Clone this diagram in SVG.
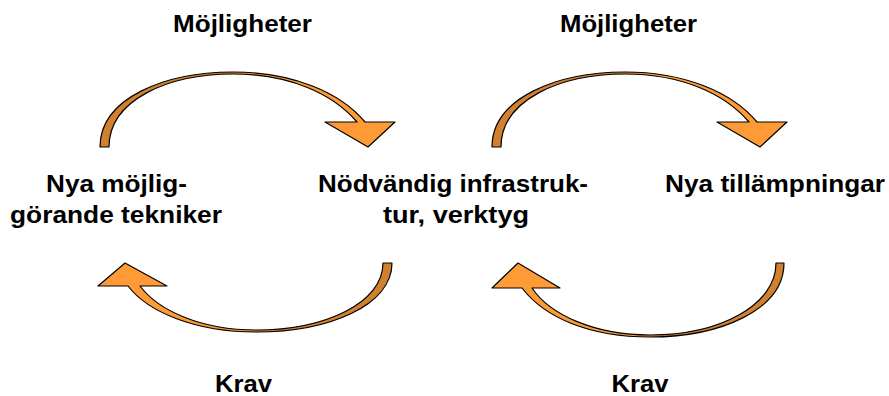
<svg xmlns="http://www.w3.org/2000/svg" width="889" height="396" viewBox="0 0 889 396">
  <defs>
    <!-- shaded underside on the tail half, bright face on the head half -->
    <linearGradient id="shadeTop" x1="0" y1="0" x2="1" y2="0">
      <stop offset="0" stop-color="#D0802E"/>
      <stop offset="0.42" stop-color="#D0802E"/>
      <stop offset="0.52" stop-color="#FF9B36"/>
      <stop offset="1" stop-color="#FF9B36"/>
    </linearGradient>
    <linearGradient id="shadeBottom" x1="1" y1="0" x2="0" y2="0">
      <stop offset="0" stop-color="#D0802E"/>
      <stop offset="0.42" stop-color="#D0802E"/>
      <stop offset="0.52" stop-color="#FF9B36"/>
      <stop offset="1" stop-color="#FF9B36"/>
    </linearGradient>
  </defs>
  <style>
    .lbl { font-family: "Liberation Sans", Arial, Helvetica, sans-serif; font-weight: bold; font-size: 23px; fill: #000; }
    .arrowTop { fill: url(#shadeTop); stroke: #000; stroke-width: 1.2; stroke-linejoin: round; }
    .arrowBottom { fill: url(#shadeBottom); stroke: #000; stroke-width: 1.2; stroke-linejoin: round; }
  </style>
  <rect width="889" height="396" fill="#fff"/>

  <g id="connectors">
    <path id="opp-left" class="arrowTop" d="M100,147 C100,98 165,72 233,72 C292,72 340,92 365,122 L395,122 L368,147 L325,122 L357,122 C333,94 290,74 233,74 C168,74 109,100 109,147 Z"/>
    <path id="opp-right" class="arrowTop" transform="translate(392,0)" d="M100,147 C100,98 165,72 233,72 C292,72 340,92 365,122 L395,122 L368,147 L325,122 L357,122 C333,94 290,74 233,74 C168,74 109,100 109,147 Z"/>
    <path id="req-left" class="arrowBottom" d="M392,263 C392,305 330,332 256,332 C195,332 148,312 128,286 L98,286 L125,263 L167,286 L140,286 C158,310 200,330 256,330 C325,330 383,303 383,263 Z"/>
    <path id="req-right" class="arrowBottom" d="M784,263 C784,310 720,337 650,337 C590,337 545,318 522,288 L492,288 L518,263 L560,288 L532,288 C550,315 595,335 650,335 C720,335 776,305 776,263 Z"/>
  </g>

  <g id="label-opp-left"><text class="lbl" x="173" y="32" textLength="139" lengthAdjust="spacingAndGlyphs">Möjligheter</text></g>
  <g id="label-opp-right"><text class="lbl" x="560" y="32" textLength="137" lengthAdjust="spacingAndGlyphs">Möjligheter</text></g>
  <g id="label-req-left"><text class="lbl" x="215" y="392" textLength="57" lengthAdjust="spacingAndGlyphs">Krav</text></g>
  <g id="label-req-right"><text class="lbl" x="611.5" y="392" textLength="57" lengthAdjust="spacingAndGlyphs">Krav</text></g>

  <g id="node-techniques">
    <text class="lbl" x="46" y="192" textLength="141" lengthAdjust="spacingAndGlyphs">Nya möjlig-</text>
    <text class="lbl" x="10" y="223" textLength="212" lengthAdjust="spacingAndGlyphs">görande tekniker</text>
  </g>
  <g id="node-infrastructure">
    <text class="lbl" x="318" y="192" textLength="270" lengthAdjust="spacingAndGlyphs">Nödvändig infrastruk-</text>
    <text class="lbl" x="383" y="223" textLength="146" lengthAdjust="spacingAndGlyphs">tur, verktyg</text>
  </g>
  <g id="node-applications">
    <text class="lbl" x="665" y="192" textLength="220" lengthAdjust="spacingAndGlyphs">Nya tillämpningar</text>
  </g>
</svg>
